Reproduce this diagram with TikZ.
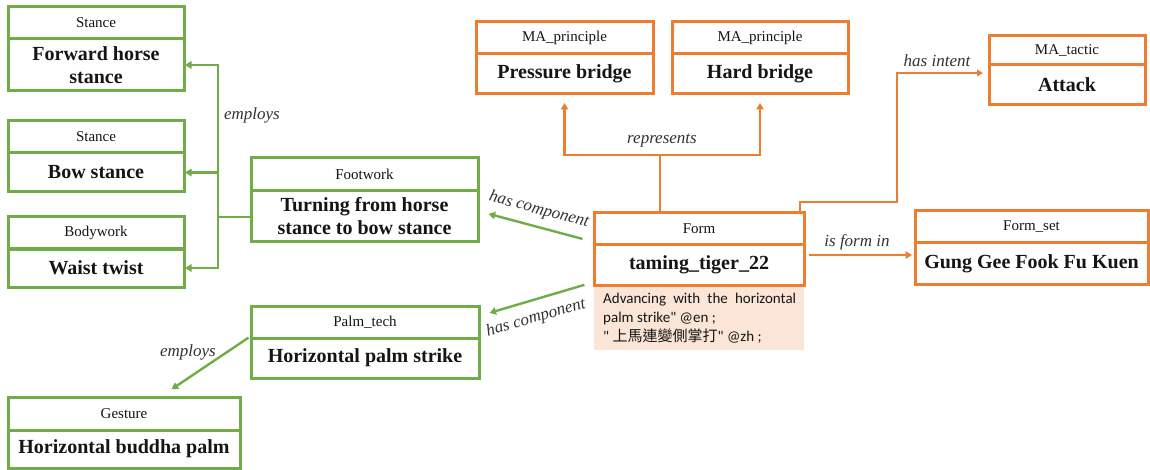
\documentclass[tikz,border=0pt]{standalone}
\usepackage{fontspec}
\setmainfont{Liberation Serif}
\newfontfamily\litfont{Carlito}
\newfontfamily\cjkfont{Noto Sans CJK TC}
\usetikzlibrary{arrows.meta}
\setlength\parindent{0pt}

\definecolor{kgreen}{HTML}{70AD47}
\definecolor{korange}{HTML}{ED7D31}
\definecolor{kpeach}{HTML}{FBE5D6}
\definecolor{ktext}{HTML}{151515}

\tikzset{
  boxframe/.style={line width=3pt, inner sep=0pt, outer sep=0pt},
  typetext/.style={font=\fontsize{15}{18}\selectfont, text=ktext, inner sep=0pt},
  nametext/.style={font=\fontsize{20}{23}\selectfont\bfseries, align=center, text=ktext, inner sep=0pt},
  reltext/.style={font=\fontsize{17}{20}\selectfont\itshape, text=black!80, inner sep=0pt},
  tip/.style={-{Triangle[length=6.5pt,width=7.5pt]}},
  gline/.style={draw=kgreen, line width=2.4pt},
  garrow/.style={gline, tip},
  oline/.style={draw=korange, line width=2.4pt},
  oarrow/.style={oline, tip},
  othin/.style={draw=korange, line width=1.6pt, -{Triangle[length=6pt,width=6.5pt]}},
}

% class box: name, colour, left, top, right, bottom, divider, type, label
\newcommand{\kgbox}[9]{%
  \node[boxframe, draw=#2, minimum width={(#5-#3)*1pt}, minimum height={(#6-#4)*1pt},
        anchor=north west] (#1) at (#3,#4) {};
  \draw[draw=#2, line width=3pt] (#1.west |- 0,#7) -- (#1.east |- 0,#7);
  \node[typetext] (#1-type) at ({(#3+#5)/2},{(#4+#7)/2}) {#8};
  \coordinate (#1-body) at ({(#3+#5)/2},{(#7+#6)/2});
  \node[nametext] (#1-name) at (#1-body) {#9};
}

\begin{document}
\begin{tikzpicture}[x=1pt,y=-1pt]
\useasboundingbox[fill=white] (0,0) rectangle (1150,470);

% literal annotation under the form
\node[fill=kpeach, minimum width=210pt, minimum height=65pt, inner sep=0pt,
      anchor=north west] (literal) at (594,285) {};
\node[anchor=north west, text width=193pt, align=justify, inner sep=0pt,
      font=\litfont\fontsize{15}{19}\selectfont, text=ktext] (literal-text) at (603,293)
  {Advancing with the horizontal\linebreak palm strike" @en ;\par
   " {\cjkfont 上馬連變側掌打}" @zh ;};

% green boxes
\kgbox{fhs}{kgreen}{8}{7}{184}{91}{39}{Stance}{Forward horse\\stance}
\kgbox{bow}{kgreen}{8}{121}{184}{192}{153}{Stance}{Bow stance}
\kgbox{waist}{kgreen}{8}{217}{184}{287}{249}{Bodywork}{Waist twist}
\kgbox{foot}{kgreen}{251}{158}{478}{242}{191}{Footwork}{Turning from horse\\stance to bow stance}
\kgbox{palm}{kgreen}{251}{306}{479}{378}{338}{Palm\_tech}{Horizontal palm strike}
\kgbox{gesture}{kgreen}{8}{397}{240}{468}{430}{Gesture}{Horizontal buddha palm}

% orange boxes
\kgbox{pressure}{korange}{476}{22}{653}{94}{54}{MA\_principle}{Pressure bridge}
\kgbox{hard}{korange}{672}{22}{848}{94}{54}{MA\_principle}{Hard bridge}
\kgbox{attack}{korange}{989}{36}{1145}{105}{65}{MA\_tactic}{Attack}
\kgbox{form}{korange}{594}{213}{804}{285}{245}{Form}{taming\_tiger\_22}
\kgbox{formset}{korange}{915}{211}{1148}{284}{243}{Form\_set}{Gung Gee Fook Fu Kuen}

% footwork employs stances
\coordinate (bus) at (218,217);
\draw[gline] (foot.west |- bus) -- (bus);
\draw[garrow, shorten >=1pt] (bus) |- (fhs.east |- fhs-body);
\draw[garrow, shorten >=1pt] (bus) |- (waist.east |- waist-body);
\draw[garrow, shorten >=1pt] (bus |- bow-body) -- (bow.east |- bow-body);
\node[reltext] (employs-a) at (252,115) {employs};

% form has components
\draw[garrow, shorten <=12pt, shorten >=11pt] (form.west |- 0,242) -- (foot.east |- 0,211);
\node[reltext, rotate=-15] (hascomp-a) at (539,210) {has component};
\draw[garrow, shorten <=10pt, shorten >=11pt] (form.west |- 0,282) -- (palm.east |- 0,316);
\node[reltext, rotate=16] (hascomp-b) at (536,318) {has component};

% palm technique employs gesture
\draw[garrow, shorten <=3pt, shorten >=14pt] (palm.west |- 0,336) -- ([xshift=36pt]gesture.north);
\node[reltext] (employs-b) at (188,352) {employs};

% form represents principles
\coordinate (rep) at (660,155);
\draw[oline] (form.north -| rep) -- (rep);
\draw[oarrow, shorten >=9pt] (rep) -| (pressure.south);
\draw[oarrow, shorten >=9pt] (rep) -| (hard.south);
\node[reltext] (represents) at (662,141) {represents};

% form has intent
\draw[othin, shorten >=6pt] (form.north -| 800,0) |- (897,202) |- (attack.west |- 0,73);
\node[reltext] (intent) at (937,61) {has intent};

% form belongs to form set
\draw[oarrow, shorten <=5pt, shorten >=3pt] (form.east |- 0,255) -- (formset.west |- 0,255);
\node[reltext] (formin) at (857,242) {is form in};
\end{tikzpicture}
\end{document}
